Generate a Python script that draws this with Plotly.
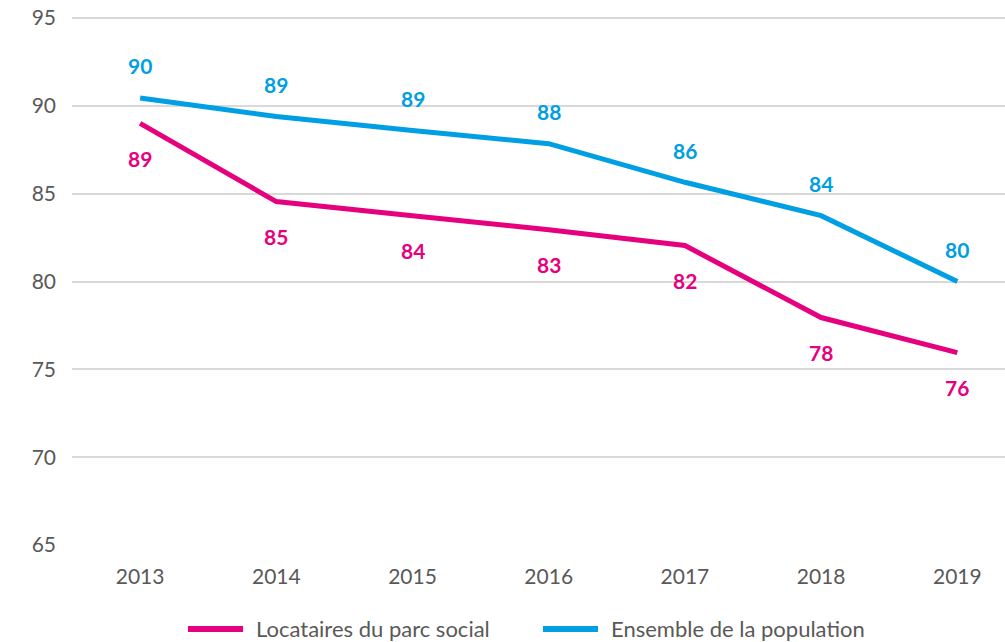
import plotly.graph_objects as go

years = ["2013", "2014", "2015", "2016", "2017", "2018", "2019"]
locataires = [89.0, 84.55, 83.75, 82.95, 82.05, 77.95, 75.95]
ensemble = [90.45, 89.4, 88.6, 87.85, 85.65, 83.75, 80.0]
series_names = ["Locataires du parc social", "Ensemble de la population"]
y_ticks = [65, 70, 75, 80, 85, 90, 95]

pink = "#E6007E"
blue = "#009FE3"
grey = "#595959"
font_family = "Lato, Open Sans, sans-serif"
fs = 21


def label(v):
    return f"<b>{int(v + 0.5)}</b>"


xi = list(range(len(years)))

fig = go.Figure()
fig.add_trace(go.Scatter(x=xi, y=locataires, mode="lines", name=series_names[0],
                         line=dict(color=pink, width=5), showlegend=False))
fig.add_trace(go.Scatter(x=xi, y=ensemble, mode="lines", name=series_names[1],
                         line=dict(color=blue, width=5), showlegend=False))

annotations = []
for x, v in zip(xi, locataires):
    annotations.append(dict(x=x, y=v, xref="x", yref="y", text=label(v),
                            showarrow=False, yshift=-35,
                            font=dict(color=pink, size=fs, family=font_family)))
for x, v in zip(xi, ensemble):
    annotations.append(dict(x=x, y=v, xref="x", yref="y", text=label(v),
                            showarrow=False, yshift=32,
                            font=dict(color=blue, size=fs, family=font_family)))

# manual legend (paper coordinates)
legend_y = -0.159
shapes = []
legend_items = [
    (series_names[0], pink, 0.1243, 0.1833, 0.1947),
    (series_names[1], blue, 0.5048, 0.5638, 0.5756),
]
for name, col, x0, x1, xt in legend_items:
    shapes.append(dict(type="line", xref="paper", yref="paper", x0=x0, x1=x1,
                       y0=legend_y, y1=legend_y, line=dict(color=col, width=6)))
    annotations.append(dict(x=xt, y=legend_y, xref="paper", yref="paper", text=name,
                            showarrow=False, xanchor="left", yanchor="middle",
                            font=dict(color=grey, size=22, family=font_family)))

fig.update_layout(
    width=1005, height=642,
    margin=dict(l=72, r=0, t=17, b=97),
    paper_bgcolor="white", plot_bgcolor="white",
    font=dict(family=font_family, size=fs, color=grey),
    annotations=annotations,
    shapes=shapes,
    showlegend=False,
    xaxis=dict(range=[-0.5, 6.35], tickvals=xi, ticktext=years, showgrid=False,
               zeroline=False, showline=False, ticks="",
               tickfont=dict(size=fs, color=grey), ticklabelstandoff=17),
    yaxis=dict(range=[65, 95.06], tickvals=y_ticks, showgrid=True, gridcolor="#D9D9D9",
               gridwidth=1.5, zeroline=False, showline=False, ticks="",
               tickfont=dict(size=fs, color=grey), ticklabelstandoff=15,
               ticklabeloverflow="allow", automargin=False),
)

fig.write_html("out.html",
               config={"displayModeBar": False},
               post_script="document.body.style.margin='0';document.body.style.overflow='hidden';")
